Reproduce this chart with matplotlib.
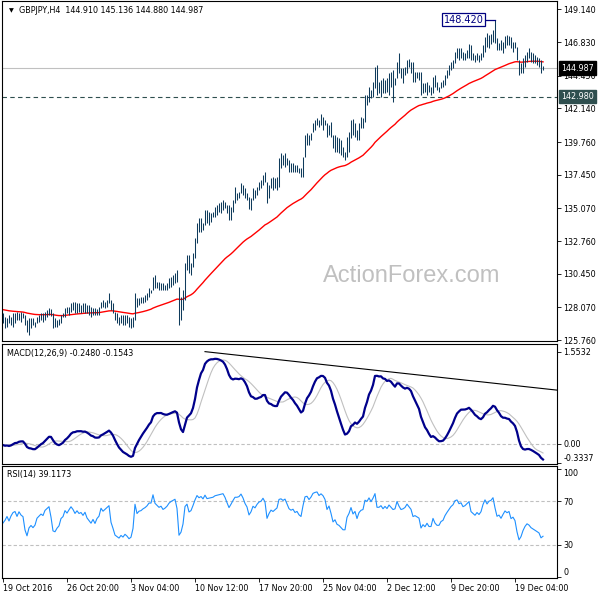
import numpy as np
import matplotlib
matplotlib.use("Agg")
import matplotlib.pyplot as plt
from matplotlib.transforms import blended_transform_factory as blend

# GBPJPY H4 bars (bar 0 = 19 Oct 12:00)
highs = [
    127.66, 127.42, 127.30, 127.54, 127.42, 127.66, 127.70, 127.77, 127.66, 127.77,
    127.66, 127.54, 127.18, 127.30, 127.30, 127.30, 127.07, 127.42, 127.54, 127.66,
    127.66, 127.77, 127.89, 128.01, 127.94, 127.66, 127.30, 127.18, 127.23, 127.54,
    127.66, 128.01, 128.13, 128.08, 128.36, 128.48, 128.48, 128.36, 128.36, 128.25,
    128.36, 128.36, 128.25, 128.25, 128.13, 128.01, 128.01, 127.94, 128.08, 128.48,
    128.60, 128.48, 128.60, 129.07, 128.60, 128.36, 127.77, 127.66, 127.42, 127.54,
    127.54, 127.54, 127.54, 127.42, 127.30, 127.42, 129.07, 128.72, 128.72, 128.83,
    128.83, 128.95, 129.07, 129.42, 129.31, 130.25, 130.37, 129.89, 129.89, 129.78,
    129.78, 129.66, 129.78, 130.13, 130.25, 130.37, 130.48, 130.72, 129.54, 128.83,
    129.30, 131.19, 131.78, 131.78, 131.19, 131.89, 132.95, 134.01, 134.37, 134.37,
    134.01, 134.96, 134.96, 134.84, 134.72, 134.84, 135.19, 135.31, 135.43, 135.55,
    135.66, 135.55, 135.31, 135.31, 135.19, 135.66, 136.61, 136.14, 136.25, 136.84,
    136.73, 136.49, 136.14, 135.90, 135.78, 136.49, 136.37, 136.61, 136.96, 137.08,
    137.43, 137.67, 136.96, 136.73, 137.20, 137.32, 137.20, 137.32, 138.61, 138.97,
    138.85, 138.97, 138.61, 138.49, 138.26, 138.26, 138.14, 138.14, 137.90, 137.90,
    138.73, 140.26, 140.38, 140.27, 140.38, 141.09, 141.33, 141.45, 141.33, 141.73,
    141.56, 141.33, 141.09, 140.97, 141.21, 140.27, 140.27, 140.15, 140.03, 139.91,
    139.44, 139.09, 140.15, 140.50, 141.33, 141.40, 141.09, 140.62, 141.09, 141.56,
    141.45, 143.10, 143.10, 143.69, 143.45, 144.04, 145.10, 145.22, 144.04, 144.16,
    144.27, 144.16, 144.27, 144.63, 144.75, 144.86, 144.27, 145.45, 146.04, 144.98,
    144.98, 145.10, 145.57, 145.62, 145.45, 145.45, 144.75, 144.75, 144.75, 144.75,
    143.92, 143.92, 144.04, 143.80, 143.68, 144.39, 144.51, 144.04, 143.68, 144.04,
    144.16, 144.51, 144.86, 145.22, 145.45, 145.57, 146.16, 146.40, 146.40, 146.40,
    146.16, 146.04, 146.28, 146.68, 146.63, 146.04, 145.92, 146.04, 145.92, 146.04,
    146.63, 147.22, 147.46, 147.34, 147.39, 147.69, 148.42, 147.10, 146.75, 146.99,
    146.87, 147.29, 147.34, 147.29, 147.22, 146.87, 146.87, 146.51, 145.57, 145.34,
    145.69, 145.92, 146.16, 146.40, 146.16, 146.04, 145.92, 145.81, 145.69, 145.57,
    145.136,
]
lows = [
    126.95, 126.60, 126.71, 126.95, 126.83, 126.71, 126.95, 127.18, 127.18, 127.07,
    127.30, 126.83, 126.36, 126.12, 126.60, 126.83, 126.71, 126.95, 127.07, 127.18,
    127.07, 127.18, 127.42, 127.54, 127.47, 126.60, 126.71, 126.71, 126.83, 126.95,
    127.42, 127.42, 127.66, 127.54, 127.77, 127.89, 127.66, 127.66, 127.77, 127.66,
    127.77, 127.66, 127.66, 127.54, 127.42, 127.54, 127.54, 127.54, 127.54, 128.01,
    128.13, 128.01, 128.13, 128.36, 127.89, 127.66, 127.18, 126.95, 126.83, 126.95,
    126.83, 126.83, 126.95, 126.71, 126.60, 126.71, 127.18, 128.13, 128.25, 128.36,
    128.36, 128.48, 128.60, 128.83, 129.07, 129.31, 129.42, 129.42, 129.31, 129.31,
    129.31, 129.31, 129.31, 129.42, 129.54, 129.66, 129.78, 129.89, 126.83, 127.18,
    127.89, 128.59, 130.71, 130.48, 130.36, 130.95, 131.54, 132.60, 133.43, 133.43,
    133.54, 133.90, 134.01, 133.90, 134.13, 134.49, 134.49, 134.60, 134.84, 134.72,
    134.96, 135.08, 134.72, 134.25, 134.25, 134.84, 135.43, 135.66, 135.78, 136.14,
    136.02, 135.78, 135.66, 135.00, 134.96, 135.66, 135.78, 136.02, 136.37, 136.49,
    136.73, 136.96, 135.43, 135.78, 136.49, 136.37, 136.49, 136.37, 136.61, 137.90,
    138.14, 138.02, 138.14, 137.67, 137.67, 137.67, 137.67, 137.67, 137.55, 137.32,
    137.32, 138.73, 139.56, 139.56, 139.91, 140.50, 140.62, 140.97, 140.86, 140.97,
    140.62, 140.97, 140.15, 140.27, 140.15, 139.32, 139.09, 139.09, 138.97, 138.85,
    138.73, 138.50, 138.73, 139.09, 140.03, 140.27, 140.15, 139.91, 139.91, 140.74,
    140.74, 141.21, 142.39, 142.62, 142.86, 142.98, 143.57, 143.10, 143.21, 142.98,
    143.21, 143.21, 143.33, 143.10, 143.69, 142.62, 143.80, 144.27, 144.63, 144.27,
    143.92, 144.51, 144.63, 145.10, 144.63, 144.04, 144.04, 144.27, 144.16, 143.10,
    143.21, 143.28, 143.10, 143.33, 143.10, 143.21, 143.68, 143.45, 143.28, 143.57,
    143.68, 143.80, 144.27, 144.51, 144.86, 144.98, 145.34, 145.69, 145.57, 145.69,
    145.57, 145.57, 145.69, 145.69, 145.57, 145.57, 145.45, 145.57, 145.45, 145.57,
    145.81, 146.16, 146.51, 146.40, 146.68, 146.87, 146.75, 146.28, 146.28, 146.28,
    146.04, 146.40, 146.63, 146.63, 146.40, 146.16, 146.40, 145.57, 144.51, 144.63,
    144.63, 145.10, 145.45, 145.69, 145.45, 145.34, 145.34, 145.22, 145.10, 144.63,
    144.880,
]
closes = [
    127.00, 127.10, 127.25, 127.10, 127.30, 127.45, 127.50, 127.35, 127.55, 127.45,
    127.40, 126.90, 126.60, 126.90, 127.00, 126.90, 127.00, 127.30, 127.40, 127.50,
    127.45, 127.70, 127.80, 127.90, 127.55, 126.90, 126.85, 127.00, 127.10, 127.45,
    127.55, 127.90, 127.80, 128.00, 128.20, 128.10, 127.95, 128.10, 128.00, 128.05,
    127.95, 128.10, 127.90, 127.80, 127.70, 127.85, 127.70, 127.90, 128.00, 128.40,
    128.30, 128.40, 128.50, 128.60, 128.00, 127.70, 127.30, 127.20, 127.10, 127.20,
    127.10, 127.20, 127.10, 126.95, 127.00, 127.30, 128.80, 128.30, 128.50, 128.55,
    128.70, 128.80, 128.95, 129.20, 129.20, 130.10, 129.70, 129.60, 129.50, 129.60,
    129.45, 129.55, 129.70, 129.95, 130.10, 130.20, 130.30, 129.95, 128.20, 128.40,
    129.00, 131.00, 131.40, 130.70, 130.90, 131.70, 132.80, 133.90, 133.70, 134.00,
    133.80, 134.70, 134.40, 134.50, 134.60, 134.70, 135.00, 135.10, 135.20, 135.30,
    135.40, 135.20, 134.90, 134.60, 135.00, 135.50, 136.00, 136.00, 136.10, 136.50,
    136.30, 136.00, 135.80, 135.30, 135.60, 136.20, 136.10, 136.50, 136.80, 136.90,
    137.30, 137.10, 136.00, 136.50, 136.90, 136.80, 137.00, 137.20, 138.40, 138.50,
    138.40, 138.60, 138.30, 138.00, 137.90, 138.00, 137.80, 137.90, 137.70, 137.60,
    138.60, 139.90, 140.00, 139.80, 140.20, 140.90, 141.10, 141.20, 141.00, 141.30,
    141.20, 141.00, 140.40, 140.80, 140.30, 139.60, 139.80, 139.40, 139.30, 139.10,
    138.90, 138.90, 139.90, 140.30, 141.00, 140.50, 140.80, 140.20, 140.90, 141.20,
    141.30, 142.80, 142.70, 143.40, 143.10, 143.80, 144.90, 143.60, 143.60, 143.90,
    143.60, 144.00, 143.80, 144.40, 144.20, 144.00, 144.10, 145.30, 144.90, 144.60,
    144.70, 144.90, 145.40, 145.20, 145.00, 144.40, 144.50, 144.40, 144.30, 143.40,
    143.70, 143.50, 143.80, 143.50, 143.50, 144.20, 143.80, 143.60, 143.60, 143.90,
    144.00, 144.40, 144.70, 145.00, 145.30, 145.50, 146.00, 146.10, 145.90, 146.00,
    145.80, 145.90, 146.10, 146.30, 145.80, 145.70, 145.60, 145.80, 145.70, 145.90,
    146.50, 147.00, 146.80, 147.10, 147.20, 147.50, 147.00, 146.50, 146.60, 146.40,
    146.70, 147.00, 146.90, 147.00, 146.60, 146.70, 146.50, 145.70, 144.90, 145.10,
    145.50, 145.80, 146.00, 145.90, 145.70, 145.60, 145.50, 145.40, 145.30, 144.91,
    144.987,
]

price_ticks = [149.14, 146.83, 144.45, 142.14, 139.76, 137.45, 135.07, 132.76, 130.45, 128.07, 125.76]
time_ticks = [0, 32, 64, 96, 128, 160, 192, 224, 256]
time_labels = ["19 Oct 2016", "26 Oct 20:00", "3 Nov 04:00", "10 Nov 12:00", "17 Nov 20:00",
               "25 Nov 04:00", "2 Dec 12:00", "9 Dec 20:00", "19 Dec 04:00"]
last_price = 144.987
support = 142.98
peak_bar, peak_price = 246, 148.42
ema55_seed = 127.95
macd_seed = 127.30
rsi_seed = 0.08
trend_bars = [101, 277]
trend_vals = [1.555, 0.905]


def ema(vals, n, seed):
    k = 2.0 / (n + 1)
    out, e = [], seed
    for v in vals:
        e += k * (v - e)
        out.append(e)
    return np.array(out)


c = np.array(closes)
bars = np.arange(len(c))
ema55 = ema(c, 55, ema55_seed)
macd = ema(c, 12, macd_seed) - ema(c, 26, macd_seed)
signal = np.array([macd[max(0, i - 8):i + 1].mean() for i in range(len(macd))])

# RSI(14), Wilder smoothing
gain, loss = rsi_seed, rsi_seed
rsi = []
for d in np.diff(c, prepend=c[0]):
    gain = (gain * 13 + max(d, 0)) / 14
    loss = (loss * 13 + max(-d, 0)) / 14
    rsi.append(100 - 100 / (1 + gain / loss))

plt.rcParams["font.family"] = "DejaVu Sans"
plt.rcParams["font.size"] = 5.8

W, H = 600, 600


def rect(x0, y0, x1, y1):
    return [x0 / W, 1 - y1 / H, (x1 - x0) / W, (y1 - y0) / H]


fig = plt.figure(figsize=(6, 6), dpi=100)
ax = fig.add_axes(rect(2, 1, 557, 341))
axm = fig.add_axes(rect(2, 344, 557, 464))
axr = fig.add_axes(rect(2, 466, 557, 578))

for a in (ax, axm, axr):
    a.set_xlim(-0.5, 277)
    for s in a.spines.values():
        s.set_color("black")
        s.set_linewidth(0.8)
    a.yaxis.tick_right()
    a.tick_params(axis="y", direction="out", length=3, width=0.6, pad=1.5, labelsize=5.8)
    a.tick_params(axis="x", bottom=False, labelbottom=False)

# main price panel
ax.set_ylim(125.70, 149.74)
ax.axhline(last_price, color="#c0c0c0", lw=0.8, zorder=1)
ax.axhline(support, color="#2f4f4f", lw=0.8, ls=(0, (4, 3)), zorder=1)
ax.vlines(bars, lows, highs, color="#0f3b5c", lw=0.75, zorder=3)
ax.plot(bars, ema55, color="red", lw=1.0, zorder=2)
ax.set_yticks(price_ticks)
ax.set_yticklabels([f"{p:.3f}" for p in price_ticks])

tr = blend(ax.transAxes, ax.transData)
ax.text(1.008, last_price, f"{last_price:.3f}", transform=tr, color="white", va="center", ha="left",
        fontsize=5.8, zorder=10, clip_on=False,
        bbox=dict(boxstyle="square,pad=0.28", fc="black", ec="black"))
ax.text(1.008, support, f"{support:.3f}", transform=tr, color="white", va="center", ha="left",
        fontsize=5.8, zorder=10, clip_on=False,
        bbox=dict(boxstyle="square,pad=0.28", fc="#2f4f4f", ec="#2f4f4f"))

ax.plot([peak_bar - 5, peak_bar], [peak_price, peak_price], color="#000080", lw=0.9, zorder=4)
ax.text(peak_bar - 5.6, peak_price, f"{peak_price:.3f}", color="#000080", ha="right", va="center",
        fontsize=7, zorder=5,
        bbox=dict(boxstyle="square,pad=0.15", fc="white", ec="#000080", lw=0.9))

ax.text(0.012, 0.972, "\u25bc", transform=ax.transAxes, fontsize=4.5, va="center", ha="left")
ax.text(0.03, 0.972, "GBPJPY,H4  144.910 145.136 144.880 144.987", transform=ax.transAxes,
        va="center", ha="left")
ax.text(0.738, 0.19, "ActionForex.com", transform=ax.transAxes, family="Liberation Sans",
        fontsize=17, color="#c0c0c0", ha="center", va="center", zorder=0)

# MACD panel
axm.set_ylim(-0.343, 1.684)
axm.axhline(0, color="#c0c0c0", lw=0.8, ls=(0, (3, 2)))
axm.plot(bars, signal, color="#c0c0c0", lw=0.8)
axm.plot(bars, macd, color="#00008b", lw=1.6)
axm.plot(trend_bars, trend_vals, color="black", lw=0.8)
axm.set_yticks([1.5532, 0.0, -0.3337])
axm.set_yticklabels(["1.5532", "0.00", "-0.3337"])
axm.get_yticklabels()[2].set_va("bottom")
axm.text(0.009, 0.92, "MACD(12,26,9) -0.2480 -0.1543", transform=axm.transAxes, va="center", ha="left")

# RSI panel
axr.set_ylim(-0.7, 102.5)
axr.axhline(70, color="#c0c0c0", lw=0.8, ls=(0, (3, 2)))
axr.axhline(30, color="#c0c0c0", lw=0.8, ls=(0, (3, 2)))
axr.plot(bars, rsi, color="#1e90ff", lw=0.8)
axr.set_yticks([100, 70, 30, 0])
axr.set_yticklabels(["100", "70", "30", "0"])
axr.get_yticklabels()[0].set_va("top")
axr.get_yticklabels()[3].set_va("bottom")
axr.text(0.009, 0.92, "RSI(14) 39.1173", transform=axr.transAxes, va="center", ha="left")
axr.set_xticks(time_ticks)
axr.set_xticklabels(time_labels)
axr.tick_params(axis="x", bottom=True, labelbottom=True, direction="out", length=3, width=0.6, pad=1.5)
for lab in axr.get_xticklabels():
    lab.set_ha("left")

fig.savefig("out.png", dpi=100)
